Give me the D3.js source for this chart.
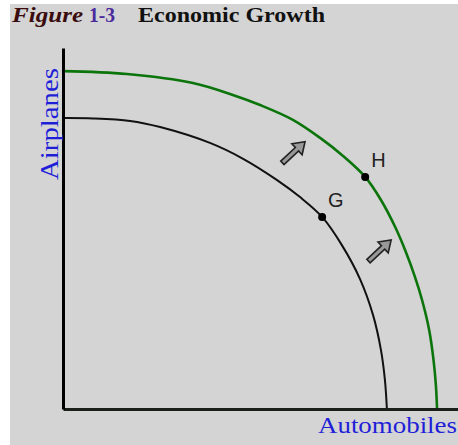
<!DOCTYPE html>
<html>
<head>
<meta charset="utf-8">
<script src="https://cdn.jsdelivr.net/npm/d3@7"></script>
<style>
  html, body { margin: 0; padding: 0; background: #ffffff; }
  svg { display: block; }
</style>
</head>
<body>
<div id="chart"></div>
<script>
// ---- Data (arbitrary units 0–100) ----
const titleParts = ["Figure", "1-3", "Economic Growth"];
const xLabel = "Automobiles";
const yLabel = "Airplanes";

// Original production possibilities frontier (black)
const ppf1X = [0, 7.6, 17.0, 24.6, 37.2, 45.6, 54.2, 60.0, 65.6, 70.6, 75.2, 78.5, 80.5, 81.5, 82.0];
const ppf1Y = [80.6, 80.5, 79.8, 78.1, 73.7, 69.3, 63.4, 58.7, 53.2, 45.4, 36.0, 26.0, 16.3, 8.0, 0];

// Shifted frontier after growth (green)
const ppf2X = [0, 16.2, 32.9, 43.0, 49.9, 58.2, 65.1, 70.9, 76.5, 80.5, 84.1, 86.8, 89.1, 90.9, 92.7, 93.8, 94.4, 94.7];
const ppf2Y = [93.6, 92.8, 90.3, 87.0, 84.2, 80.1, 75.1, 70.1, 64.3, 57.9, 50.4, 43.5, 36.6, 30.2, 21.9, 13.6, 6.6, 0];

// Labelled points
const pointNames = ["G", "H"];
const pointX = [65.6, 76.5];
const pointY = [53.2, 64.3];

// Shift arrows (centres)
const arrowX = [58.5, 80.3];
const arrowY = [71.2, 44.0];

// ---- Layout ----
const W = 458, H = 445;
const svg = d3.select("#chart").append("svg")
  .attr("width", W).attr("height", H);

svg.append("rect").attr("x", 10).attr("y", 4).attr("width", W - 10).attr("height", H - 4)
  .attr("fill", "#d4d4d4");

const x = d3.scaleLinear().domain([0, 100]).range([63, 458]);
const y = d3.scaleLinear().domain([0, 100]).range([409, 48]);

// Title
const title = svg.append("text")
  .attr("y", 22)
  .attr("font-family", "'Liberation Serif', 'Times New Roman', serif")
  .attr("font-size", 21).attr("font-weight", "bold");
title.append("tspan").attr("x", 12).attr("font-style", "italic").attr("fill", "#3a0c0c")
  .attr("textLength", 71).attr("lengthAdjust", "spacingAndGlyphs").text(titleParts[0]);
title.append("tspan").attr("x", 89).attr("fill", "#4a2a9c")
  .attr("textLength", 26).attr("lengthAdjust", "spacingAndGlyphs").text(titleParts[1]);
title.append("tspan").attr("x", 138).attr("fill", "#111")
  .attr("textLength", 187).attr("lengthAdjust", "spacingAndGlyphs").text(titleParts[2]);

// Curves
const line = d3.line()
  .x(d => x(d[0])).y(d => y(d[1]))
  .curve(d3.curveCatmullRom.alpha(0.5));

svg.append("path")
  .datum(ppf1X.map((v, i) => [v, ppf1Y[i]]))
  .attr("d", line).attr("fill", "none")
  .attr("stroke", "#111").attr("stroke-width", 2);

svg.append("path")
  .datum(ppf2X.map((v, i) => [v, ppf2Y[i]]))
  .attr("d", line).attr("fill", "none")
  .attr("stroke", "#0b750b").attr("stroke-width", 2.6);

// Axes (no ticks, just the domain lines)
const xAxis = svg.append("g").attr("transform", `translate(0,${y(0)})`)
  .call(d3.axisBottom(x).tickValues([]).tickSizeOuter(0));
xAxis.select(".domain").attr("stroke", "#1a1f1a").attr("stroke-width", 3);

const yAxis = svg.append("g").attr("transform", `translate(${x(0)},0)`)
  .call(d3.axisLeft(y).tickValues([]).tickSizeOuter(0));
yAxis.select(".domain").attr("stroke", "#000").attr("stroke-width", 3);

// Axis labels
svg.append("text")
  .attr("x", 318).attr("y", 433)
  .attr("font-family", "'Liberation Serif', 'Times New Roman', serif")
  .attr("font-size", 24).attr("fill", "#1f1fd8")
  .attr("textLength", 139).attr("lengthAdjust", "spacingAndGlyphs")
  .text(xLabel);

svg.append("text")
  .attr("transform", "translate(58,180) rotate(-90)")
  .attr("font-family", "'Liberation Serif', 'Times New Roman', serif")
  .attr("font-size", 25).attr("fill", "#1f1fd8")
  .attr("textLength", 112).attr("lengthAdjust", "spacingAndGlyphs")
  .text(yLabel);

// Arrows (block arrows pointing up-right)
const arrowShape = [[-16, -2.4], [4, -2.4], [4, -7.5], [15, 0], [4, 7.5], [4, 2.4], [-16, 2.4]];
arrowX.forEach((ax, i) => {
  svg.append("polygon")
    .attr("points", arrowShape.map(p => p.join(",")).join(" "))
    .attr("transform", `translate(${x(ax)},${y(arrowY[i])}) rotate(-43)`)
    .attr("fill", "#999").attr("stroke", "#222").attr("stroke-width", 1.6)
    .attr("stroke-linejoin", "miter");
});

// Points and labels
pointNames.forEach((name, i) => {
  svg.append("circle")
    .attr("cx", x(pointX[i])).attr("cy", y(pointY[i])).attr("r", 4)
    .attr("fill", "#000");
  svg.append("text")
    .attr("x", x(pointX[i]) + 6).attr("y", y(pointY[i]) - 10)
    .attr("font-family", "'Liberation Sans', Arial, sans-serif")
    .attr("font-size", 20).attr("fill", "#222")
    .text(name);
});
</script>
</body>
</html>
